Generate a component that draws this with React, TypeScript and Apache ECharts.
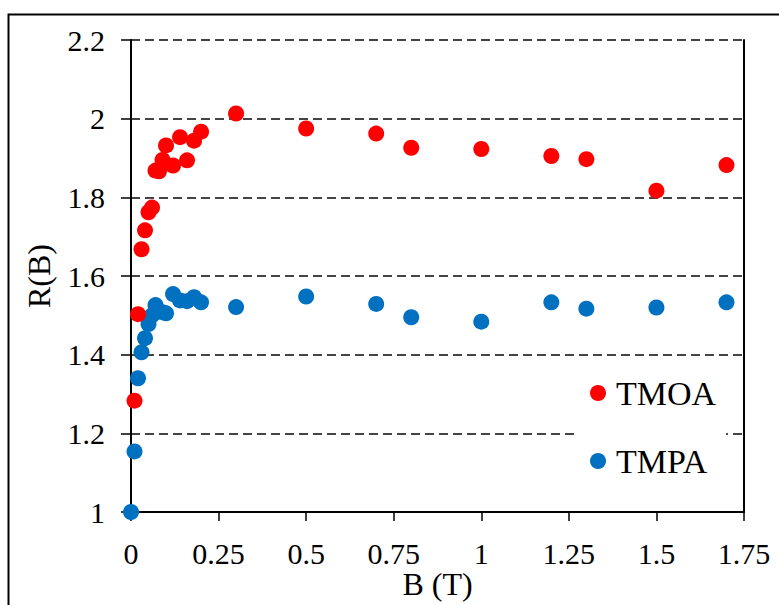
import React, { useEffect, useRef } from "react";
import * as echarts from "echarts";

const bTMPA = [0, 0.01, 0.02, 0.03, 0.04, 0.05, 0.06, 0.07, 0.08, 0.09, 0.1, 0.12, 0.14, 0.16, 0.18, 0.2, 0.3, 0.5, 0.7, 0.8, 1.0, 1.2, 1.3, 1.5, 1.7];
const rTMPA = [1.0, 1.154, 1.34, 1.406, 1.442, 1.478, 1.5, 1.526, 1.51, 1.508, 1.505, 1.554, 1.538, 1.536, 1.546, 1.533, 1.521, 1.548, 1.529, 1.495, 1.484, 1.533, 1.517, 1.52, 1.533];

const bTMOA = [0.01, 0.02, 0.03, 0.04, 0.05, 0.06, 0.07, 0.08, 0.09, 0.1, 0.12, 0.14, 0.16, 0.18, 0.2, 0.3, 0.5, 0.7, 0.8, 1.0, 1.2, 1.3, 1.5, 1.7];
const rTMOA = [1.283, 1.503, 1.668, 1.716, 1.762, 1.774, 1.868, 1.866, 1.895, 1.932, 1.881, 1.953, 1.894, 1.944, 1.967, 2.013, 1.975, 1.962, 1.926, 1.923, 1.905, 1.897, 1.817, 1.882];

const seriesNames = ["TMOA", "TMPA"];
const xName = "B (T)";
const yName = "R(B)";

const FONT = "Liberation Serif";

export default function App() {
  const ref = useRef<HTMLDivElement>(null);
  useEffect(() => {
    if (!ref.current) return;
    const chart = echarts.init(ref.current, null, { renderer: "svg" });
    const pairs = (xs: number[], ys: number[]) => xs.map((x, i) => [x, ys[i]]);
    chart.setOption({
      animation: false,
      backgroundColor: "#ffffff",
      textStyle: { fontFamily: FONT },
      grid: { left: 131, top: 40, right: 35, bottom: 93, containLabel: false, outerBoundsMode: "none" },
      graphic: [
        {
          type: "rect",
          left: 6,
          top: 12,
          shape: { width: 800, height: 700 },
          style: { fill: "none", stroke: "#000", lineWidth: 2 },
          silent: true,
        },
      ],
      legend: {
        data: seriesNames,
        orient: "vertical",
        left: 575,
        top: 366,
        icon: "circle",
        itemWidth: 16,
        itemHeight: 16,
        itemGap: 34,
        padding: [10, 10, 10, 15],
        backgroundColor: "#ffffff",
        textStyle: { fontFamily: FONT, fontSize: 34, color: "#000", padding: [0, 0, 0, 5] },
      },
      xAxis: {
        type: "value",
        min: 0,
        max: 1.75,
        interval: 0.25,
        name: xName,
        nameLocation: "middle",
        nameGap: 56,
        nameMoveOverlap: false,
        nameTextStyle: { fontFamily: FONT, fontSize: 32, color: "#000", lineHeight: 32 },
        axisLine: { show: true, lineStyle: { color: "#000", width: 2 } },
        axisTick: { show: true, inside: false, length: 9, lineStyle: { color: "#000", width: 1.5 } },
        axisLabel: { fontFamily: FONT, fontSize: 30, color: "#000", margin: 26 },
        splitLine: { show: false },
      },
      yAxis: [
        {
          type: "value",
          min: 1,
          max: 2.2,
          interval: 0.2,
          name: yName,
          nameLocation: "middle",
          nameGap: 76,
          nameTextStyle: { fontFamily: FONT, fontSize: 32, color: "#000" },
          axisLine: { show: true, lineStyle: { color: "#000", width: 2 } },
          axisTick: { show: true, inside: false, length: 10, lineStyle: { color: "#000", width: 1.5 } },
          axisLabel: { fontFamily: FONT, fontSize: 30, color: "#000", margin: 26 },
          splitLine: { show: true, lineStyle: { color: "#444", width: 2, type: [9, 5] } },
        },
        {
          type: "value",
          min: 1,
          max: 2.2,
          interval: 0.2,
          position: "right",
          axisLine: { show: true, lineStyle: { color: "#000", width: 2 } },
          axisTick: { show: false },
          axisLabel: { show: false },
          splitLine: { show: false },
        },
      ],
      series: [
        {
          name: "TMPA",
          type: "scatter",
          data: pairs(bTMPA, rTMPA),
          symbol: "circle",
          symbolSize: 16,
          itemStyle: { color: "#0070C0", opacity: 1 },
          z: 2,
        },
        {
          name: "TMOA",
          type: "scatter",
          data: pairs(bTMOA, rTMOA),
          symbol: "circle",
          symbolSize: 16,
          itemStyle: { color: "#FF0000", opacity: 1 },
          z: 3,
        },
      ],
    });
    return () => chart.dispose();
  }, []);
  return (
    <div
      ref={ref}
      style={{ position: "fixed", left: 0, top: 0, width: 779, height: 605 }}
    />
  );
}
